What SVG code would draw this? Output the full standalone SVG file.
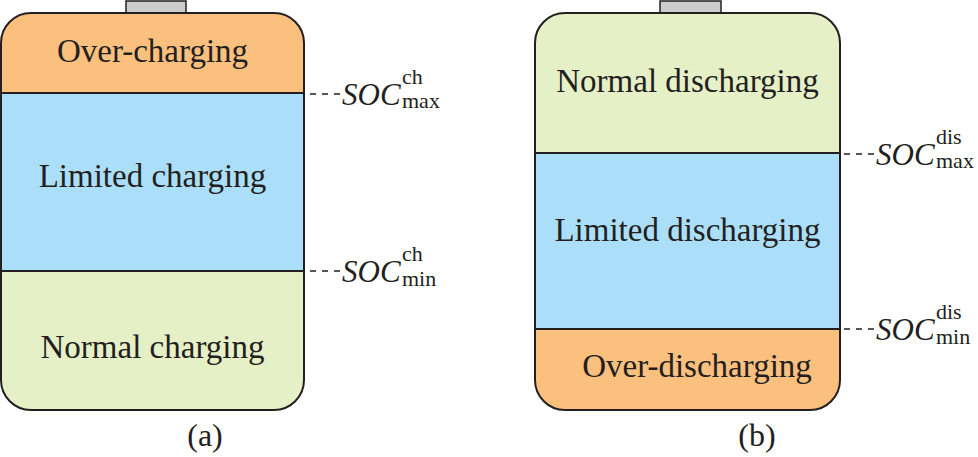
<svg xmlns="http://www.w3.org/2000/svg" width="978" height="457" viewBox="0 0 978 457">
<style>
.t{font-family:"Liberation Serif","Times New Roman",Times,serif;font-size:33px;fill:#231F20;text-anchor:middle}
.cap{font-family:"Liberation Serif","Times New Roman",Times,serif;font-size:32px;fill:#231F20;text-anchor:middle}
.soc{font-family:"Liberation Serif","Times New Roman",Times,serif;font-size:31px;font-style:italic;fill:#231F20}
.sc{font-family:"Liberation Serif","Times New Roman",Times,serif;font-size:22px;fill:#231F20}
.edge{fill:none;stroke:#231F20;stroke-width:2}
.sep{stroke:#231F20;stroke-width:2}
.dash{stroke:#231F20;stroke-width:1.5;stroke-dasharray:6 6}
.orange{fill:#FBBF7E}
.blue{fill:#ABDFF9}
.green{fill:#E6F0C7}
.term{fill:#CCCCCC;stroke:#231F20;stroke-width:1.5}
</style>
<defs>
<clipPath id="ca"><rect x="1" y="13" width="303" height="397" rx="30"/></clipPath>
<clipPath id="cb"><rect x="535" y="13" width="305" height="397" rx="30"/></clipPath>
</defs>
<g id="battery-a">
<rect class="term" x="126" y="1" width="60" height="12"/>
<g clip-path="url(#ca)">
<rect class="orange" x="0" y="13" width="306" height="80"/>
<rect class="blue" x="0" y="93" width="306" height="178"/>
<rect class="green" x="0" y="271" width="306" height="140"/>
</g>
<line class="sep" x1="1" y1="93" x2="304" y2="93"/>
<line class="sep" x1="1" y1="271" x2="304" y2="271"/>
<rect class="edge" x="1" y="13" width="303" height="397" rx="30"/>
<text class="t" x="152.5" y="62">Over-charging</text>
<text class="t" x="152.5" y="187">Limited charging</text>
<text class="t" x="152.5" y="358">Normal charging</text>
<text class="cap" x="205" y="446">(a)</text>
</g>
<g id="battery-b">
<rect class="term" x="660" y="1" width="61" height="12"/>
<g clip-path="url(#cb)">
<rect class="green" x="534" y="13" width="308" height="140"/>
<rect class="blue" x="534" y="153" width="308" height="176"/>
<rect class="orange" x="534" y="329" width="308" height="82"/>
</g>
<line class="sep" x1="535" y1="153" x2="840" y2="153"/>
<line class="sep" x1="535" y1="329" x2="840" y2="329"/>
<rect class="edge" x="535" y="13" width="305" height="397" rx="30"/>
<text class="t" x="687.5" y="92">Normal discharging</text>
<text class="t" x="687.5" y="241">Limited discharging</text>
<text class="t" x="697" y="377">Over-discharging</text>
<text class="cap" x="757" y="446">(b)</text>
</g>
<g id="connectors">
<line class="dash" x1="310" y1="94" x2="340" y2="94"/>
<line class="dash" x1="310" y1="271" x2="340" y2="271"/>
<line class="dash" x1="844" y1="154" x2="874" y2="154"/>
<line class="dash" x1="844" y1="329" x2="874" y2="329"/>
</g>
<g id="labels">
<text class="soc" x="342" y="105">SOC</text>
<text class="sc" x="402" y="84">ch</text>
<text class="sc" x="402" y="108">max</text>
<text class="soc" x="342" y="282">SOC</text>
<text class="sc" x="402" y="261">ch</text>
<text class="sc" x="402" y="286">min</text>
<text class="soc" x="876" y="165">SOC</text>
<text class="sc" x="936" y="144">dis</text>
<text class="sc" x="936" y="168">max</text>
<text class="soc" x="876" y="340">SOC</text>
<text class="sc" x="936" y="319">dis</text>
<text class="sc" x="936" y="344">min</text>
</g>
</svg>
